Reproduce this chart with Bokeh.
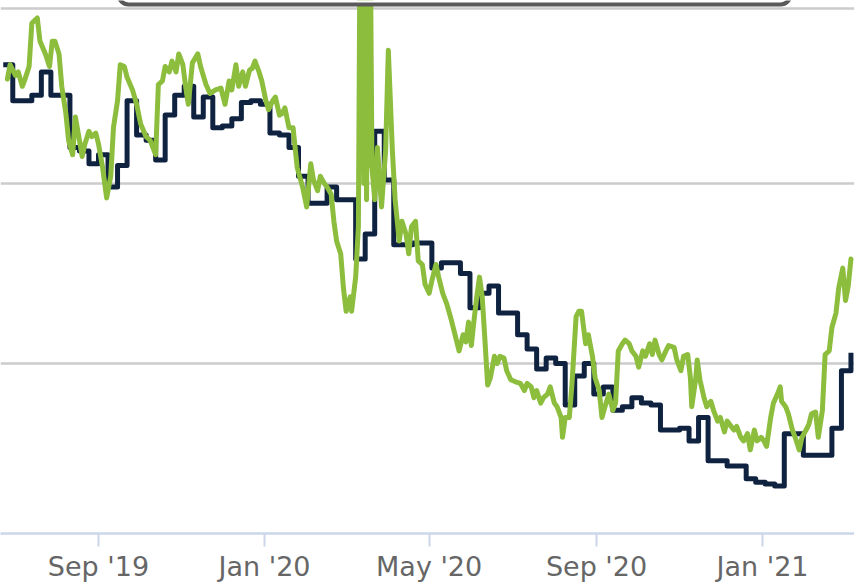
import pandas as pd
from bokeh.plotting import figure
from bokeh.models import Range1d, FixedTicker, DatetimeTickFormatter, BoxAnnotation
from bokeh.embed import file_html
from bokeh.resources import INLINE

# ---------------- data ----------------
# weekly series (dark navy, drawn as steps), one value per week
weekly_start = "2019-06-23"
weekly_vals = [
    126.6, 124.6, 124.6, 124.9, 126.2, 124.9, 124.9, 122.0, 121.8, 121.1,
    121.6, 119.8, 121.0, 124.6, 122.7, 122.4, 121.3, 123.8, 124.9, 125.4,
    123.7, 124.8, 123.1, 123.2, 123.6, 124.5, 124.6, 124.4, 122.8, 122.7,
    122.0, 120.4, 118.9, 118.9, 119.8, 119.1, 119.1, 115.8, 117.2, 122.9,
    120.2, 116.6, 116.6, 116.7, 116.7, 115.3, 115.6, 115.6, 115.0, 113.1,
    113.9, 114.3, 112.8, 112.8, 111.6, 110.8, 109.7, 110.3, 110.0, 107.7,
    109.3, 110.0, 108.3, 108.7, 107.4, 107.6, 108.1, 107.8, 107.7, 106.3,
    106.3, 106.4, 105.7, 107.0, 104.6, 104.6, 104.3, 104.3, 103.6, 103.4,
    103.3, 103.2, 106.1, 106.1, 104.9, 104.9, 104.9, 106.4, 109.6, 110.6,
]

# daily series (green): day offsets from daily_start and values
daily_start = "2019-06-23"
daily_days = [
    3, 5, 9, 11, 14, 16, 19, 21, 25, 27, 31, 34, 36, 38, 41, 43, 46, 48, 51, 53,
    56, 58, 60, 63, 65, 68, 70, 73, 76, 79, 81, 84, 86, 89, 91, 95, 98, 101, 105, 108,
    112, 114, 117, 119, 122, 124, 127, 129, 132, 134, 136, 139, 143, 145, 149, 152, 156, 160, 163, 166,
    168, 171, 173, 176, 178, 181, 183, 185, 188, 190, 193, 195, 198, 200, 203, 205, 207, 210,
    213, 216, 220, 223, 226, 228, 231, 233, 236, 238, 241, 243, 245, 248, 250, 252, 255, 256, 259, 261,
    262, 263, 264, 265, 266, 267, 268, 269, 270, 271, 273, 275, 278, 281, 283, 286, 288, 291, 293, 296,
    298, 300, 303, 305, 308, 310, 313, 315, 318, 320, 323,
    326, 329, 332, 335, 338, 340, 342, 344, 346, 348, 350, 352, 354, 356,
    358, 361, 363, 365, 368, 370, 373, 376, 380, 383, 385, 388, 390, 392, 395, 397, 400, 402, 405, 407,
    410, 411, 413, 416, 418, 421, 423, 425, 428, 430, 433, 435, 438, 440, 443, 445, 448, 450, 452, 455,
    457, 460, 462, 465, 467, 470, 472, 475, 477, 479, 482, 484, 487, 489,
    493, 495, 498, 500, 503, 505, 506, 509, 510, 512, 515, 517, 520, 522, 525, 527, 530, 532, 534, 537,
    539, 542, 544, 547, 549, 552, 554, 557, 559, 561, 564, 566, 569, 571, 572, 575, 577, 580, 582, 585,
    587, 590, 592, 594, 597, 599, 602, 604, 607, 609, 612, 614, 617, 619, 621, 623,
]
daily_vals = [
    125.8, 126.6, 126.0, 126.2, 125.4, 125.8, 126.5, 128.9, 129.2, 127.9,
    127.2, 126.5, 127.9, 127.9, 127.2, 125.4, 123.9, 122.4, 121.6, 123.7,
    122.4, 121.5, 122.2, 122.9, 122.6, 122.8, 122.2, 120.9, 119.2, 120.4,
    123.1, 124.6, 126.6, 126.5, 125.9, 125.2, 124.4, 123.3, 122.6, 122.4,
    121.6, 125.5, 125.7, 126.5, 126.2, 126.8, 126.2, 127.2, 126.6, 125.4,
    124.4, 126.7, 127.2, 126.5, 125.5, 125.0, 125.2, 125.3, 124.4, 125.7,
    125.2, 126.6, 125.4, 126.2, 125.4, 126.3, 126.4, 126.8, 126.2, 125.7,
    124.6, 124.1, 124.6, 124.8, 123.8, 123.9, 124.2, 123.1,
    123.1, 120.9, 119.8, 118.7, 121.1, 120.2, 119.6, 120.4, 120.0, 119.8,
    119.4, 117.9, 116.8, 116.1, 114.2, 112.9, 113.7, 112.9, 114.8, 117.6,
    131.0, 121.5, 131.0, 120.0, 131.0, 119.1, 131.0, 121.0, 131.0, 120.9,
    119.1, 122.0, 118.7, 121.8, 127.4, 121.8, 119.1, 116.8, 117.9, 117.2,
    116.1, 117.6, 117.9, 115.7, 115.5, 114.4, 113.9, 114.6, 115.5, 114.8, 113.9,
    113.3, 112.5, 111.6, 110.7, 111.6, 111.2, 112.3, 111.0, 112.4, 113.7, 114.8, 113.7, 111.3, 108.8,
    109.2, 110.4, 110.0, 110.4, 110.3, 109.6, 109.1, 109.0, 108.9, 108.5,
    108.9, 108.7, 108.1, 108.5, 107.8, 108.1, 108.3, 108.7, 107.8, 107.6,
    107.0, 105.9, 107.0, 107.0, 108.9, 112.6, 112.9, 112.9, 111.1, 111.6,
    110.4, 109.2, 108.5, 107.0, 107.8, 108.3, 107.4, 107.8, 110.7, 111.1,
    111.3, 111.1, 110.7, 110.4, 109.8, 110.7, 110.4, 111.1, 110.5, 111.3,
    110.5, 110.2, 110.7, 111.0,
    110.9, 110.2, 109.6, 110.4, 110.5, 109.2, 107.6, 109.2, 110.2, 109.1,
    108.1, 107.6, 107.9, 107.4, 106.8, 107.0, 106.2, 106.8, 106.6, 106.3,
    106.5, 105.9, 105.7, 106.1, 105.2, 106.3, 105.7, 105.9, 105.7, 105.4,
    107.0, 107.8, 108.3, 108.7, 107.9, 107.6, 107.2, 106.3, 105.9, 105.2,
    105.9, 106.3, 106.6, 107.2, 107.3, 105.9, 107.4, 110.5, 110.7, 112.0,
    112.8, 114.2, 115.3, 113.5, 114.3, 115.8,
]

tick_dates = ["2019-09-01", "2020-01-01", "2020-05-01", "2020-09-01", "2021-01-01"]
grid_levels = [110, 120, 129.75]

# ---------------- build ----------------
weekly_x = pd.date_range(weekly_start, periods=len(weekly_vals), freq="7D")
daily_x = pd.Timestamp(daily_start) + pd.to_timedelta(daily_days, unit="D")

ref = pd.Timestamp("2019-09-01")
x_start = ref - pd.Timedelta(days=72.02)
x_end = ref + pd.Timedelta(days=555.6)

FRAME_H = 533
Y_TOP = 130.167
PX_PER_UNIT = 18.0

p = figure(
    x_axis_type="datetime",
    frame_width=854,
    frame_height=FRAME_H,
    output_backend="svg",
    toolbar_location=None,
    y_axis_location=None,
    min_border=0,
    x_range=Range1d(x_start, x_end),
    y_range=Range1d(Y_TOP - FRAME_H / PX_PER_UNIT, Y_TOP),
)
p.outline_line_color = None
p.background_fill_color = "white"
p.border_fill_color = "white"
p.xgrid.visible = False
p.ygrid.ticker = FixedTicker(ticks=grid_levels)
p.ygrid.grid_line_color = "#cccccc"
p.ygrid.grid_line_width = 2.5

p.step(weekly_x, weekly_vals, mode="after", line_color="#0f2341",
       line_width=5, line_join="round")
p.line(daily_x, daily_vals, line_color="#8cbd3d", line_width=5,
       line_join="round", line_cap="round")

# partially visible (clipped) legend/tooltip box at the very top
box = BoxAnnotation(
    left=ref + pd.Timedelta(days=14.7), right=ref + pd.Timedelta(days=508.6),
    bottom=129.95, top=140,
    fill_color="white", fill_alpha=1.0,
    line_color="#5a5a5a", line_alpha=1.0, line_width=4, border_radius=10,
    level="overlay",
)
p.add_layout(box)

xa = p.xaxis[0]
xa.ticker = FixedTicker(ticks=[pd.Timestamp(d).value / 1e6 for d in tick_dates])
fmt = "%b '%y"
xa.formatter = DatetimeTickFormatter(
    milliseconds=fmt, seconds=fmt, minsec=fmt, minutes=fmt, hourmin=fmt,
    hours=fmt, days=fmt, months=fmt, years=fmt)
xa.axis_line_color = "#ccd6eb"
xa.axis_line_width = 2.5
xa.major_tick_line_color = "#ccd6eb"
xa.major_tick_line_width = 2
xa.major_tick_out = 13
xa.major_tick_in = 0
xa.minor_tick_out = 0
xa.minor_tick_in = 0
xa.major_label_standoff = 4
xa.major_label_text_font = "DejaVu Sans"
xa.major_label_text_font_size = "27px"
xa.major_label_text_color = "#666666"

open("out.html", "w").write(file_html(p, INLINE))
